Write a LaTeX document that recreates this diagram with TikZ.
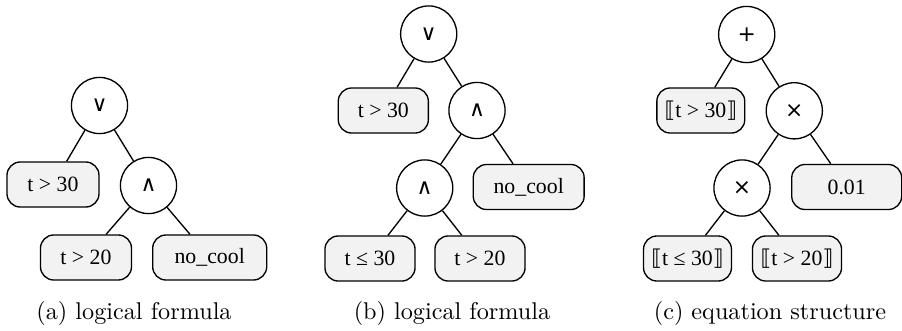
\documentclass[tikz,border=0pt]{standalone}
\usepackage{fontspec}
\newfontfamily\boxfont{Liberation Serif}
\newfontfamily\symfont{DejaVu Sans}
\definecolor{leafgray}{HTML}{F2F2F2}
\begin{document}
\begin{tikzpicture}[x=0.413pt,y=-0.413pt,
  op/.style={circle,draw,line width=0.55pt,fill=white,minimum size=23.2pt,inner sep=0pt,font=\symfont\fontsize{9}{10}\selectfont},
  leaf/.style={draw,line width=0.55pt,rounded corners=5.5pt,fill=leafgray,minimum height=18.6pt,minimum width=#1,inner sep=0pt,font=\boxfont\fontsize{9}{10}\selectfont},
  edge/.style={line width=0.55pt},
  captext/.style={anchor=base,font=\fontsize{10}{12}\selectfont}]
\useasboundingbox (0,0) rectangle (902,330);
% (a)
\node[op] (a0) at (99.5,105.5) {∨};
\node[leaf=38pt] (a1) at (53,184.5) {t > 30};
\node[op] (a2) at (148.5,185.5) {∧};
\node[leaf=37.6pt] (a3) at (86,257.5) {t > 20};
\node[leaf=47.1pt] (a4) at (209.7,257.5) {no\_cool};
\draw[edge] (a0) -- (a1);
\draw[edge] (a0) -- (a2);
\draw[edge] (a2) -- (a3);
\draw[edge] (a2) -- (a4);
% (b)
\node[op] (b0) at (428.7,34) {∨};
\node[leaf=37.2pt] (b1) at (383.3,110.5) {t > 30};
\node[op] (b2) at (477,110.5) {∧};
\node[op] (b3) at (424.7,188) {∧};
\node[leaf=45.8pt] (b4) at (528.7,187) {no\_cool};
\node[leaf=37.2pt] (b5) at (370,258.5) {t ≤ 30};
\node[leaf=37.2pt] (b6) at (480,258.5) {t > 20};
\draw[edge] (b0) -- (b1);
\draw[edge] (b0) -- (b2);
\draw[edge] (b2) -- (b3);
\draw[edge] (b2) -- (b4);
\draw[edge] (b3) -- (b5);
\draw[edge] (b3) -- (b6);
% (c)
\node[op] (c0) at (746.7,34.5) {+};
\node[leaf=36.3pt] (c1) at (700.8,110.5) {{\symfont ⟦}t > 30{\symfont ⟧}};
\node[op] (c2) at (794.3,110.8) {×};
\node[op] (c3) at (742,188) {×};
\node[leaf=45.4pt] (c4) at (846.7,187) {0.01};
\node[leaf=36.3pt] (c5) at (687.5,258.5) {{\symfont ⟦}t ≤ 30{\symfont ⟧}};
\node[leaf=36.8pt] (c6) at (797,258.5) {{\symfont ⟦}t > 20{\symfont ⟧}};
\draw[edge] (c0) -- (c1);
\draw[edge] (c0) -- (c2);
\draw[edge] (c2) -- (c3);
\draw[edge] (c2) -- (c4);
\draw[edge] (c3) -- (c5);
\draw[edge] (c3) -- (c6);
% captions
\node[captext] (capa) at (134,319) {(a) logical formula};
\node[captext] (capb) at (452,319) {(b) logical formula};
\node[captext] (capc) at (770,319) {(c) equation structure};
\end{tikzpicture}
\end{document}
